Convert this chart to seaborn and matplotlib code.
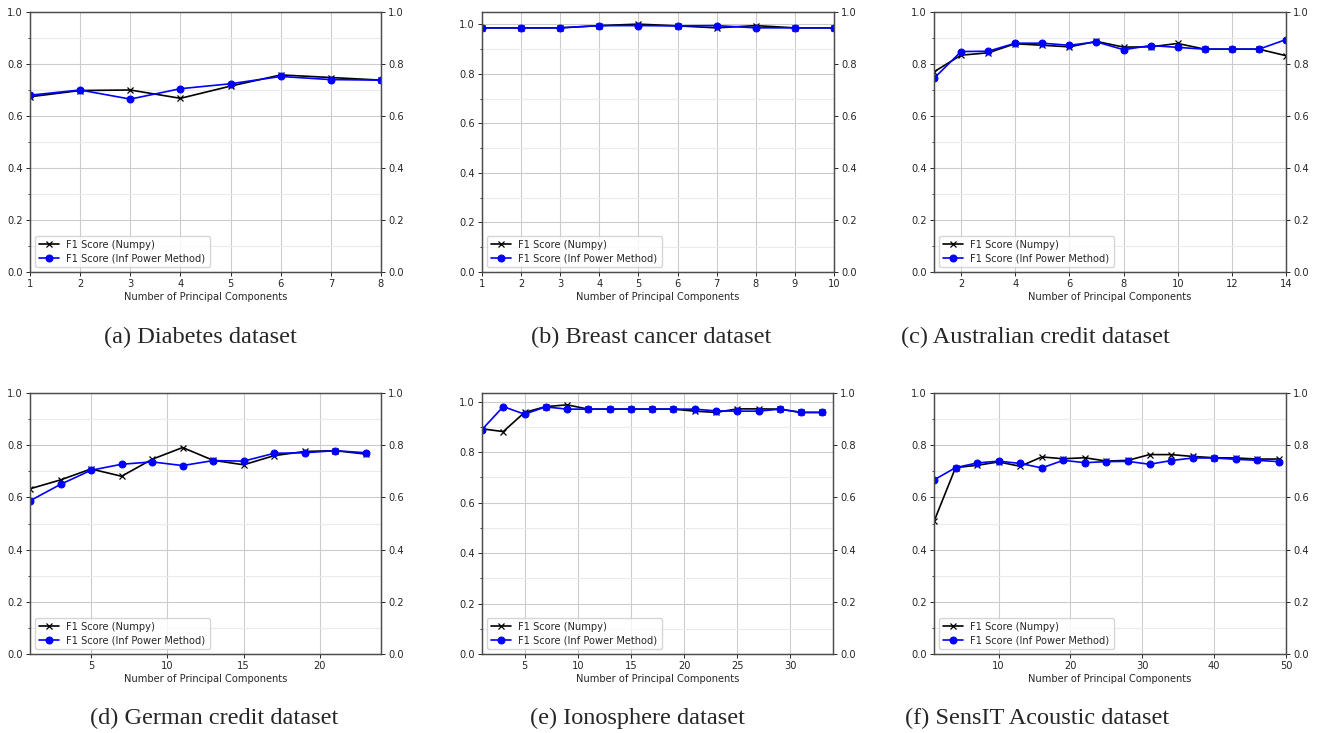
import numpy as np
import matplotlib
matplotlib.use('Agg')
import matplotlib.pyplot as plt
import matplotlib as mpl
import seaborn as sns
from matplotlib.ticker import AutoMinorLocator

sns.set_style('ticks')
mpl.rc('font', size=7.1)
mpl.rc('axes', edgecolor='0.3', linewidth=0.9)
mpl.rc('xtick', color='0.15', labelsize=7.1)
mpl.rc('ytick', color='0.15', labelsize=7.1)

LABEL_NP = 'F1 Score (Numpy)'
LABEL_INF = 'F1 Score (Inf Power Method)'

# (a) Diabetes
diab_x = [1, 2, 3, 4, 5, 6, 7, 8]
diab_np = [0.674, 0.698, 0.700, 0.668, 0.715, 0.758, 0.748, 0.738]
diab_inf = [0.680, 0.700, 0.665, 0.705, 0.724, 0.752, 0.740, 0.738]

# (b) Breast cancer
breast_x = [1, 2, 3, 4, 5, 6, 7, 8, 9, 10]
breast_np = [0.986, 0.986, 0.986, 0.995, 1.001, 0.994, 0.986, 0.995, 0.986, 0.986]
breast_inf = [0.986, 0.986, 0.986, 0.995, 0.995, 0.994, 0.995, 0.986, 0.986, 0.986]

# (c) Australian credit
aus_x = [1, 2, 3, 4, 5, 6, 7, 8, 9, 10, 11, 12, 13, 14]
aus_np = [0.770, 0.834, 0.843, 0.878, 0.872, 0.866, 0.887, 0.865, 0.866,
          0.879, 0.857, 0.857, 0.857, 0.832]
aus_inf = [0.745, 0.848, 0.849, 0.880, 0.880, 0.872, 0.885, 0.855, 0.871,
           0.864, 0.857, 0.857, 0.857, 0.894]

# (d) German credit
ger_x = [1, 3, 5, 7, 9, 11, 13, 15, 17, 19, 21, 23]
ger_np = [0.633, 0.667, 0.709, 0.681, 0.746, 0.791, 0.742, 0.725, 0.760,
          0.776, 0.779, 0.766]
ger_inf = [0.587, 0.650, 0.704, 0.727, 0.736, 0.722, 0.741, 0.739, 0.769,
           0.771, 0.779, 0.771]

# (e) Ionosphere
ion_x = [1, 3, 5, 7, 9, 11, 13, 15, 17, 19, 21, 23, 25, 27, 29, 31, 33]
ion_np = [0.893, 0.882, 0.958, 0.981, 0.988, 0.971, 0.971, 0.971, 0.971,
          0.971, 0.963, 0.958, 0.972, 0.972, 0.971, 0.958, 0.958]
ion_inf = [0.890, 0.981, 0.951, 0.980, 0.971, 0.971, 0.971, 0.971, 0.971,
           0.971, 0.971, 0.964, 0.963, 0.963, 0.971, 0.958, 0.958]

# (f) SensIT Acoustic
sens_x = [1, 4, 7, 10, 13, 16, 19, 22, 25, 28, 31, 34, 37, 40, 43, 46, 49]
sens_np = [0.508, 0.714, 0.723, 0.736, 0.719, 0.755, 0.748, 0.752, 0.739,
           0.742, 0.764, 0.764, 0.757, 0.752, 0.751, 0.747, 0.747]
sens_inf = [0.667, 0.714, 0.732, 0.739, 0.730, 0.713, 0.742, 0.733, 0.737,
            0.738, 0.727, 0.741, 0.751, 0.751, 0.746, 0.742, 0.737]

captions = ['(a) Diabetes dataset', '(b) Breast cancer dataset',
            '(c) Australian credit dataset', '(d) German credit dataset',
            '(e) Ionosphere dataset', '(f) SensIT Acoustic dataset']

W, H = 1317, 733
fig = plt.figure(figsize=(W / 100, H / 100), dpi=100)

# (x, y, ncomp, xticks, ytop, axes box px, caption centre px)
panels = [
    (diab_x, diab_np, diab_inf, 8, [1, 2, 3, 4, 5, 6, 7, 8], 1.0, (30, 12, 381, 272), (200, 337)),
    (breast_x, breast_np, breast_inf, 10, list(range(1, 11)), 1.05, (482, 12, 834, 272), (651, 337)),
    (aus_x, aus_np, aus_inf, 14, [2, 4, 6, 8, 10, 12, 14], 1.0, (934, 12, 1286, 272), (1035, 337)),
    (ger_x, ger_np, ger_inf, 24, [5, 10, 15, 20], 1.0, (30, 393, 381, 654), (214, 718)),
    (ion_x, ion_np, ion_inf, 34, [5, 10, 15, 20, 25, 30], 1.035, (482, 393, 833, 654), (637, 718)),
    (sens_x, sens_np, sens_inf, 50, [10, 20, 30, 40, 50], 1.0, (934, 393, 1286, 654), (1037, 718)),
]

for (x, ynp, yinf, ncomp, xticks, ytop, box, cap), caption in zip(panels, captions):
    x0, y0, x1, y1 = box
    ax = fig.add_axes([x0 / W, 1 - y1 / H, (x1 - x0) / W, (y1 - y0) / H])
    sns.lineplot(x=x, y=ynp, ax=ax, color='k', marker='x', markersize=4.5,
                 mec='k', mew=0.9, linewidth=1.2, label=LABEL_NP)
    sns.lineplot(x=x, y=yinf, ax=ax, color='b', marker='o', markersize=5,
                 mec='b', linewidth=1.2, label=LABEL_INF)
    ax.set_xlim(1, ncomp)
    ax.set_ylim(0, ytop)
    ax.set_xticks(xticks)
    ax.set_yticks(np.arange(0, 1.01, 0.2))
    ax.yaxis.set_minor_locator(AutoMinorLocator(2))
    ax.grid(which='major', color='0.8', linewidth=0.8)
    ax.grid(which='minor', axis='y', color='0.92', linewidth=0.8)
    ax.set_axisbelow(True)
    ax.tick_params(which='major', length=3, width=0.7, pad=2)
    ax.tick_params(which='minor', length=1.8, width=0.6)
    ax.set_xlabel('Number of Principal Components', labelpad=2)
    ax.set_ylabel('')
    ax.legend(loc='lower left', fontsize=7.1, frameon=True, fancybox=True,
              framealpha=0.8, edgecolor='0.8', handlelength=2.0,
              borderpad=0.4, labelspacing=0.35)

    ax2 = ax.twinx()
    ax2.set_ylim(0, 1.0)
    ax2.set_yticks(np.arange(0, 1.01, 0.2))
    ax2.tick_params(length=3, width=0.7, pad=2)
    for s in ax2.spines.values():
        s.set_color('0.3')

    fig.text(cap[0] / W, 1 - cap[1] / H, caption, ha='center', va='center',
             fontsize=17.5, family='Liberation Serif')

fig.savefig('out.png', dpi=100)
